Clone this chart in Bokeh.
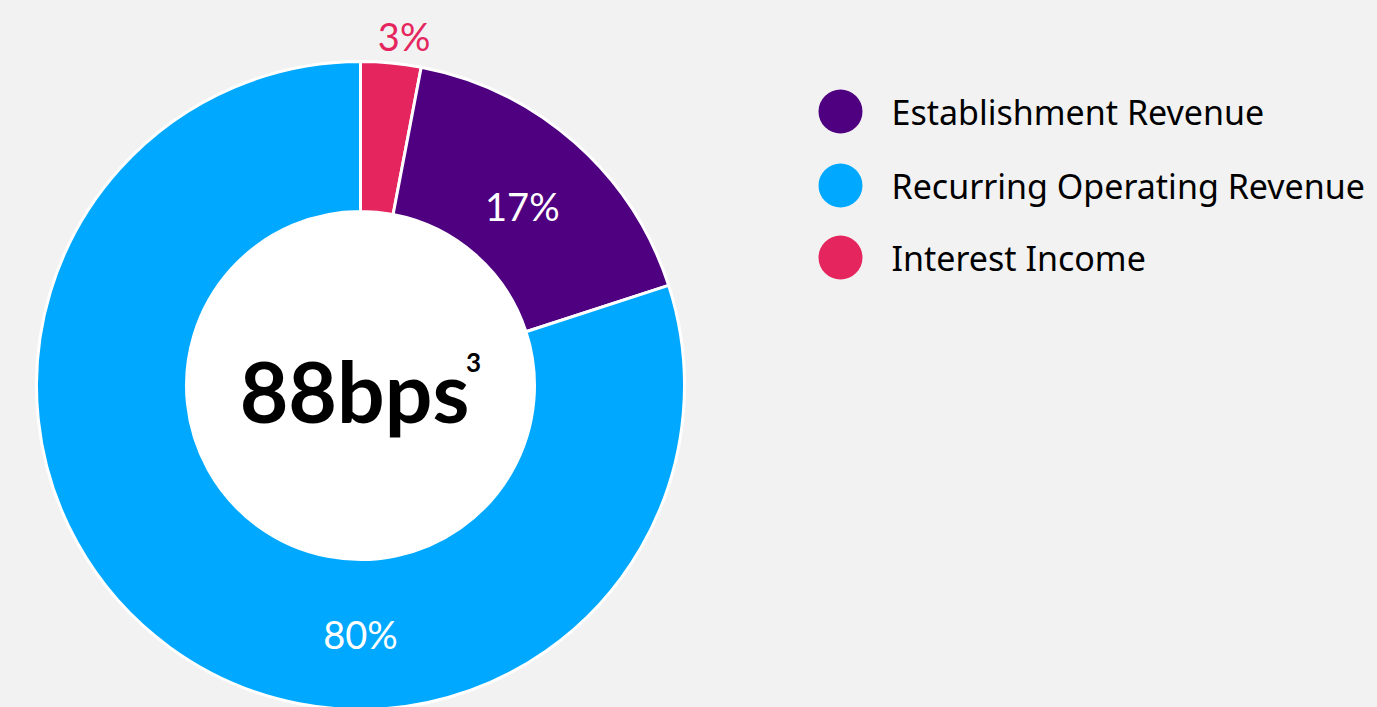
import numpy as np
from bokeh.plotting import figure
from bokeh.models import ColumnDataSource, Range1d, GlobalInlineStyleSheet
from bokeh.core.properties import value
from bokeh.embed import file_html
from bokeh.resources import INLINE

# ---- data ----
categories = ["Interest Income", "Establishment Revenue", "Recurring Operating Revenue"]
values = [3, 17, 80]
colors = ["#e5265e", "#4f0080", "#00a9ff"]
labels = ["3%", "17%", "80%"]
legend_order = ["Establishment Revenue", "Recurring Operating Revenue", "Interest Income"]
center_main = "88bps"
center_sup = "3"

W, H = 1377, 707
BG = "#f2f2f2"
FONT = "Lato"
LFONT = "Noto Sans"

p = figure(width=W, height=H, output_backend="svg", toolbar_location=None,
           x_range=Range1d(0, W), y_range=Range1d(0, H), min_border=0,
           background_fill_color=BG, border_fill_color=BG, outline_line_color=None)
p.axis.visible = False
p.grid.visible = False
p.stylesheets = [GlobalInlineStyleSheet(css="body{background:#f2f2f2;}")]

cx, cy = 360, 322
r_out, r_in = 324, 174

vals = np.array(values, dtype=float)
frac = vals / vals.sum()
cum = np.concatenate([[0], np.cumsum(frac)])
start = np.pi / 2 - cum[:-1] * 2 * np.pi
end = np.pi / 2 - cum[1:] * 2 * np.pi

src = ColumnDataSource(dict(x=[cx] * len(values), y=[cy] * len(values),
                            start=start, end=end, color=colors, cat=categories))
p.annular_wedge(x="x", y="y", inner_radius=r_in, outer_radius=r_out,
                start_angle="start", end_angle="end", direction="clock",
                fill_color="color", line_color="white", line_width=3, source=src)
p.circle(x=[cx], y=[cy], radius=r_in, fill_color="white", line_color=None)

# slice labels
mid = np.pi / 2 - (cum[:-1] + frac / 2) * 2 * np.pi
label_angle = [mid[0] - 0.03, mid[1] - 0.01, -np.pi / 2]
label_r = [352, 242, 248]
label_color = ["#e5265e", "white", "white"]
lx = [cx + r * np.cos(a) for r, a in zip(label_r, label_angle)]
ly = [cy + r * np.sin(a) for r, a in zip(label_r, label_angle)]
p.text(x=lx, y=ly, text=labels, text_color=label_color, text_font=value(FONT),
       text_font_size="38px", text_align="center", text_baseline="middle")

# center text
p.text(x=[cx - 6], y=[cy - 5], text=[center_main], text_font=value(FONT),
       text_font_style="bold", text_font_size="84px", text_color="black",
       text_align="center", text_baseline="middle")
p.text(x=[cx + 113], y=[cy + 23], text=[center_sup], text_font=value(FONT),
       text_font_style="bold", text_font_size="26px", text_color="black",
       text_align="center", text_baseline="middle")

# legend
idx = [categories.index(c) for c in legend_order]
ly0 = [H - 111, H - 185, H - 257]
p.scatter(x=[840] * 3, y=ly0, size=44, marker="circle",
          fill_color=[colors[i] for i in idx], line_color=None)
p.text(x=[891] * 3, y=ly0, text=legend_order, text_font=value(LFONT),
       text_font_size="34px", text_color="black",
       text_align="left", text_baseline="middle")

open("out.html", "w").write(file_html(p, INLINE))
